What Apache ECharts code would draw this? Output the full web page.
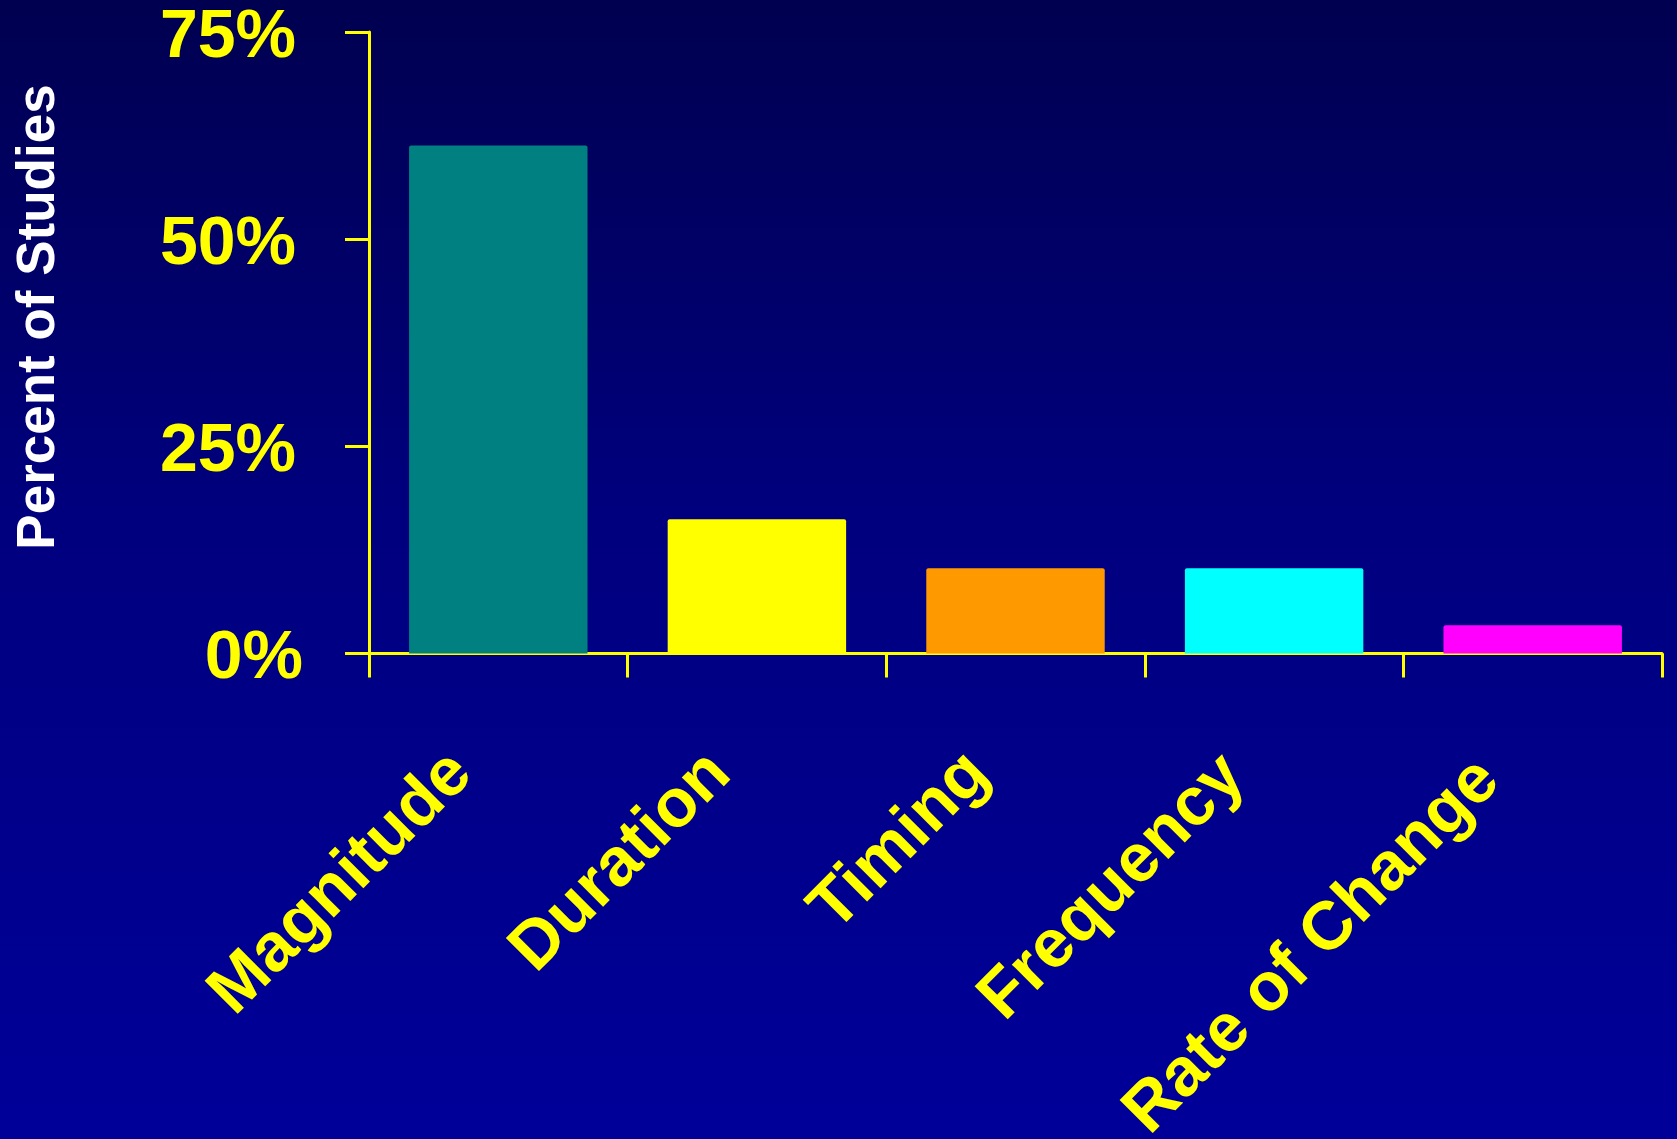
<!DOCTYPE html>
<html>
<head>
<meta charset="utf-8">
<title>Percent of Studies</title>
<script src="https://cdn.jsdelivr.net/npm/echarts@6/dist/echarts.min.js"></script>
<style>
  html, body { margin: 0; padding: 0; }
  #chart { width: 1677px; height: 1139px; }
</style>
</head>
<body>
<div id="chart"></div>
<script>
// Aspects of change examined, share of studies (%)
const categories = ['Magnitude', 'Duration', 'Timing', 'Frequency', 'Rate of Change'];
const percentOfStudies = [61.3, 16.2, 10.3, 10.3, 3.4];
const barColors = ['#008080', '#FFFF00', '#FF9900', '#00FFFF', '#FF00FF'];
const yTicks = [0, 25, 50, 75];

const FONT = '"Liberation Sans", Arial, Helvetica, sans-serif';
const YELLOW = '#FFFF00';

// extra shift of the slanted category labels toward the lower left
const labelShift = [52, 52, 52, 56, 62];

const chart = echarts.init(document.getElementById('chart'), null, { renderer: 'canvas' });

chart.setOption({
  backgroundColor: {
    type: 'linear', x: 0, y: 0, x2: 0, y2: 1,
    colorStops: [
      { offset: 0, color: '#000050' },
      { offset: 0.45, color: '#00007E' },
      { offset: 1, color: '#000099' }
    ]
  },
  animation: false,
  grid: {
    left: 369, top: 32, right: 15, bottom: 485.5,
    containLabel: false,
    outerBoundsMode: 'none'
  },
  graphic: [{
    type: 'text',
    x: 39,
    y: 317,
    rotation: Math.PI / 2,
    style: {
      text: 'Percent of Studies',
      fill: '#FFFFFF',
      font: 'bold 53px ' + FONT,
      textAlign: 'center',
      textVerticalAlign: 'middle'
    }
  }],
  xAxis: {
    type: 'category',
    data: categories.map(function (c, i) {
      return { value: c, textStyle: { padding: [0, labelShift[i], labelShift[i] * 2, 0] } };
    }),
    boundaryGap: true,
    axisLine: { show: true, lineStyle: { color: YELLOW, width: 3 } },
    axisTick: { show: true, alignWithLabel: false, length: 24, lineStyle: { color: YELLOW, width: 3 } },
    axisLabel: {
      interval: 0,
      rotate: 45,
      margin: 73,
      color: YELLOW,
      fontFamily: FONT,
      fontWeight: 'bold',
      fontSize: 68,
      align: 'right',
      verticalAlign: 'middle',
      padding: [0, 52, 104, 0],
      hideOverlap: false
    },
    splitLine: { show: false }
  },
  yAxis: {
    type: 'value',
    min: yTicks[0],
    max: yTicks[yTicks.length - 1],
    interval: 25,
    axisLine: { show: true, lineStyle: { color: YELLOW, width: 3 } },
    axisTick: { show: true, length: 24, lineStyle: { color: YELLOW, width: 3 } },
    splitLine: { show: false },
    axisLabel: {
      margin: 66,
      color: YELLOW,
      fontFamily: FONT,
      fontWeight: 'bold',
      fontSize: 68,
      verticalAlign: 'middle',
      padding: [12, 0, 0, 0],
      formatter: function (v) {
        return v === 0 ? '{z|' + v + '%}' : '{n|' + v + '%}';
      },
      rich: {
        z: { color: YELLOW, fontFamily: FONT, fontWeight: 'bold', fontSize: 68 },
        n: { color: YELLOW, fontFamily: FONT, fontWeight: 'bold', fontSize: 68, padding: [0, 7, 0, 0] }
      }
    }
  },
  series: [{
    type: 'bar',
    data: percentOfStudies.map(function (v, i) {
      return { value: v, itemStyle: { color: barColors[i] } };
    }),
    barCategoryGap: '31%',
    itemStyle: { borderRadius: [2, 2, 0, 0] },
    z: 1
  }]
});
</script>
</body>
</html>
